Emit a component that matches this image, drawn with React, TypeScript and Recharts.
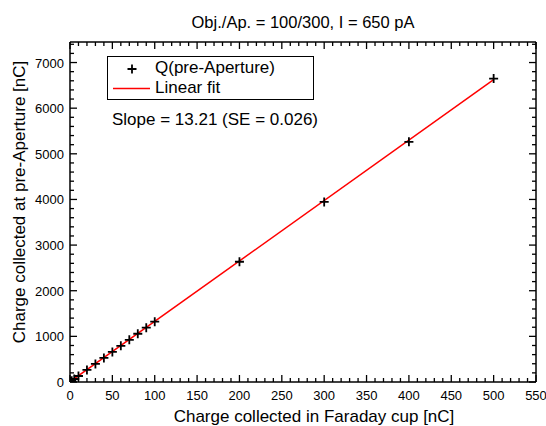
import React from 'react'
import {
  ComposedChart,
  Scatter,
  Line,
  XAxis,
  YAxis,
} from 'recharts'

// measured charge, Faraday cup (x) vs pre-aperture (y), nC
const cupCharge = [1, 2, 5, 10, 20, 30, 40, 50, 60, 70, 80, 90, 100, 200, 300, 400, 500]
const apertureCharge = [13, 26, 66, 132, 264, 397, 528, 660, 793, 925, 1057, 1190, 1322, 2635, 3945, 5262, 6648]

// linear fit end points
const fitX = [0, 500]
const fitY = [5, 6625]

const xMajor = [0, 50, 100, 150, 200, 250, 300, 350, 400, 450, 500, 550]
const yMajor = [0, 1000, 2000, 3000, 4000, 5000, 6000, 7000]
const xTicks = Array.from({ length: 56 }, (_, i) => i * 10)
const yTicks = Array.from({ length: 38 }, (_, i) => i * 200)

const points = cupCharge.map((x, i) => ({ x, y: apertureCharge[i] }))
const fit = fitX.map((x, i) => ({ x, y: fitY[i] }))

const FONT = '"Liberation Sans", Arial, Helvetica, sans-serif'
const W = 546
const H = 426

function Cross(props: any) {
  const { cx, cy } = props
  if (cx == null || cy == null) return <g />
  return (
    <path
      d={`M${cx - 4.5},${cy}H${cx + 4.5}M${cx},${cy - 4.5}V${cy + 4.5}`}
      stroke="#000"
      strokeWidth={1.8}
      fill="none"
    />
  )
}

// ticks point into the plot; labels only on bottom/left
function makeTick(side: 'bottom' | 'top' | 'left' | 'right') {
  return function Tick(props: any) {
    const { x, y, payload } = props
    const v = payload.value
    const major = side === 'bottom' || side === 'top' ? xMajor.includes(v) : yMajor.includes(v)
    const len = major ? 7 : 4
    let line
    if (side === 'bottom') line = <line x1={x} x2={x} y1={y} y2={y - len} />
    else if (side === 'top') line = <line x1={x} x2={x} y1={y} y2={y + len} />
    else if (side === 'left') line = <line x1={x} x2={x + len} y1={y} y2={y} />
    else line = <line x1={x} x2={x - len} y1={y} y2={y} />
    return (
      <g stroke="#000" strokeWidth={1.3}>
        {line}
        {major && side === 'bottom' && (
          <text x={x} y={y + 18} textAnchor="middle" fontSize={13} fill="#000" stroke="none" fontFamily={FONT}>
            {v}
          </text>
        )}
        {major && side === 'left' && (
          <text x={x - 6} y={y + 5} textAnchor="end" fontSize={13} fill="#000" stroke="none" fontFamily={FONT}>
            {v}
          </text>
        )}
      </g>
    )
  }
}

const axisLine = { stroke: '#000', strokeWidth: 1.5 }

export default function App() {
  return (
    <div style={{ position: 'absolute', left: 0, top: 0, width: W, height: H, background: '#fff', fontFamily: FONT }}>
      <ComposedChart width={W} height={H} margin={{ top: 41, right: 9, bottom: 43, left: 69 }}>
        <XAxis xAxisId="b" dataKey="x" type="number" domain={[0, 550]} ticks={xTicks} interval={0}
          height={1} tickSize={0} tickMargin={0} axisLine={axisLine} tickLine={false} tick={makeTick('bottom')} allowDataOverflow />
        <XAxis xAxisId="t" orientation="top" dataKey="x" type="number" domain={[0, 550]} ticks={xTicks} interval={0}
          height={1} tickSize={0} tickMargin={0} axisLine={axisLine} tickLine={false} tick={makeTick('top')} allowDataOverflow />
        <YAxis yAxisId="l" dataKey="y" type="number" domain={[0, 7450]} ticks={yTicks} interval={0}
          width={1} tickSize={0} tickMargin={0} axisLine={axisLine} tickLine={false} tick={makeTick('left')} allowDataOverflow />
        <YAxis yAxisId="r" orientation="right" dataKey="y" type="number" domain={[0, 7450]} ticks={yTicks} interval={0}
          width={1} tickSize={0} tickMargin={0} axisLine={axisLine} tickLine={false} tick={makeTick('right')} allowDataOverflow />
        <Scatter data={points} xAxisId="t" yAxisId="r" dataKey="y" shape={() => <g />} isAnimationActive={false} />
        <Line data={fit} xAxisId="b" yAxisId="l" dataKey="y" stroke="#ff0000" strokeWidth={1.5} dot={false} isAnimationActive={false} />
        <Scatter data={points} xAxisId="b" yAxisId="l" dataKey="y" shape={Cross} isAnimationActive={false} />
      </ComposedChart>

      {/* title */}
      <div style={{ position: 'absolute', left: 70, width: 466, top: 12, textAlign: 'center', fontSize: 16.5, lineHeight: '20px' }}>
        Obj./Ap. = 100/300, I = 650 pA
      </div>

      {/* axis titles */}
      <div style={{ position: 'absolute', left: 314, top: 417, width: 0, height: 0 }}>
        <div style={{ position: 'absolute', transform: 'translate(-50%, -50%)', whiteSpace: 'nowrap', fontSize: 17, lineHeight: '20px' }}>
          Charge collected in Faraday cup [nC]
        </div>
      </div>
      <div style={{ position: 'absolute', left: 20, top: 202, width: 0, height: 0 }}>
        <div style={{ position: 'absolute', transform: 'translate(-50%, -50%) rotate(-90deg)', whiteSpace: 'nowrap', fontSize: 17, lineHeight: '20px' }}>
          Charge collected at pre-Aperture [nC]
        </div>
      </div>

      {/* legend */}
      <div style={{ position: 'absolute', left: 107, top: 56, width: 205, height: 42, border: '1px solid #000', fontSize: 17 }}>
        <svg style={{ position: 'absolute', left: 0, top: 0 }} width={60} height={42}>
          <path d="M19.5,12H28.5M24,7.5V16.5" stroke="#000" strokeWidth={1.8} fill="none" />
          <line x1={5} x2={42} y1={31.5} y2={31.5} stroke="#ff0000" strokeWidth={1.5} />
        </svg>
        <div style={{ position: 'absolute', left: 47, top: 1, lineHeight: '20px', whiteSpace: 'nowrap' }}>Q(pre-Aperture)</div>
        <div style={{ position: 'absolute', left: 47, top: 21, lineHeight: '20px', whiteSpace: 'nowrap' }}>Linear fit</div>
      </div>
      <div style={{ position: 'absolute', left: 112, top: 110, fontSize: 17, lineHeight: '20px', whiteSpace: 'nowrap' }}>
        Slope = 13.21 (SE = 0.026)
      </div>
    </div>
  )
}
